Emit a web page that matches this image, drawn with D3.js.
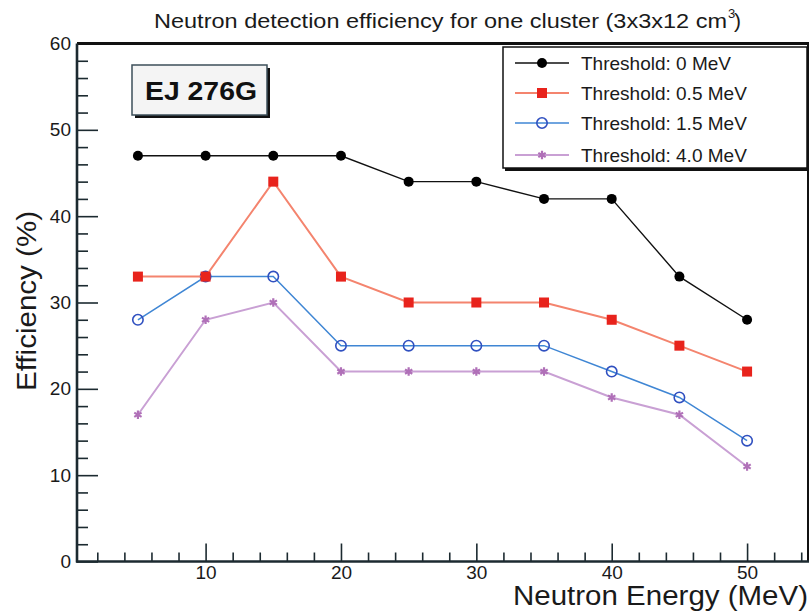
<!DOCTYPE html>
<html><head><meta charset="utf-8">
<script src="https://cdn.jsdelivr.net/npm/d3@7"></script>
<style>
html,body{margin:0;padding:0;background:#fff;}
svg{display:block;font-family:"Liberation Sans",Arial,Helvetica,sans-serif;}
</style></head>
<body>
<svg id="chart" width="810" height="616"></svg>
<script>
const energies = [5, 10, 15, 20, 25, 30, 35, 40, 45, 50];
const thr0  = [47, 47, 47, 47, 44, 44, 42, 42, 33, 28];
const thr05 = [33, 33, 44, 33, 30, 30, 30, 28, 25, 22];
const thr15 = [28, 33, 33, 25, 25, 25, 25, 22, 19, 14];
const thr40 = [17, 28, 30, 22, 22, 22, 22, 19, 17, 11];
const seriesNames = ["Threshold: 0 MeV", "Threshold: 0.5 MeV", "Threshold: 1.5 MeV", "Threshold: 4.0 MeV"];
const xTickLabels = [10, 20, 30, 40, 50];
const yTickLabels = [0, 10, 20, 30, 40, 50, 60];

const svg = d3.select("#chart");
const L = 77, R = 808, T = 43.5, B = 561.5;
const x = d3.scaleLinear().domain([0.5, 54.5]).range([L, R]);
const y = d3.scaleLinear().domain([0, 60]).range([B, T]);

const styles = [
  {line:"#111111", lw:1.4, marker:"dot",    mc:"#000000"},
  {line:"#f4846e", lw:2.0, marker:"square", mc:"#e8231c"},
  {line:"#3f86d4", lw:1.5, marker:"ocircle",mc:"#3050c0"},
  {line:"#c9a0d4", lw:2.0, marker:"star",   mc:"#b070b8"}
];
const allSeries = [thr0, thr05, thr15, thr40];

// title
const title = svg.append("text").attr("x", 154).attr("y", 28)
  .attr("font-size", 21).attr("fill", "#1a1a1a");
title.append("tspan").text("Neutron detection efficiency for one cluster (3x3x12 cm")
  .attr("textLength", 573).attr("lengthAdjust", "spacingAndGlyphs");
svg.append("text").attr("x", 728).attr("y", 18).attr("font-size", 13).attr("fill", "#1a1a1a").text("3");
svg.append("text").attr("x", 734).attr("y", 28).attr("font-size", 21).attr("fill", "#1a1a1a").text(")");

// axes ticks
const g = svg.append("g");
const yMajor = d3.axisLeft(y).tickValues(yTickLabels).tickFormat(d3.format("d")).tickSizeInner(-21).tickSizeOuter(0).tickPadding(6);
const yMinor = d3.axisLeft(y).tickValues(d3.range(0, 61, 2).filter(v => v % 10 !== 0)).tickFormat("").tickSizeInner(-11).tickSizeOuter(0);
const xMajor = d3.axisBottom(x).tickValues(xTickLabels).tickFormat(d3.format("d")).tickSizeInner(-18).tickSizeOuter(0).tickPadding(4);
const xMinor = d3.axisBottom(x).tickValues(d3.range(2, 55, 2).filter(v => v % 10 !== 0)).tickFormat("").tickSizeInner(-9).tickSizeOuter(0);

function styleAxis(sel, fs){
  sel.select(".domain").remove();
  sel.selectAll(".tick line").attr("stroke", "#1c2a30").attr("stroke-width", 1.6);
  sel.selectAll(".tick text").attr("font-size", fs).attr("fill", "#1a1a1a")
     .attr("font-family", "Liberation Sans, Arial, sans-serif");
}
g.append("g").attr("transform", `translate(${L},0)`).call(yMajor).call(s => styleAxis(s, 19));
g.append("g").attr("transform", `translate(${L},0)`).call(yMinor).call(s => styleAxis(s, 19));
g.append("g").attr("transform", `translate(0,${B})`).call(xMajor).call(s => styleAxis(s, 19));
g.append("g").attr("transform", `translate(0,${B})`).call(xMinor).call(s => styleAxis(s, 19));

// frame
svg.append("line").attr("x1", L).attr("x2", R+1).attr("y1", T).attr("y2", T).attr("stroke", "#111").attr("stroke-width", 3);
svg.append("line").attr("x1", R).attr("x2", R).attr("y1", T).attr("y2", B).attr("stroke", "#111").attr("stroke-width", 2);
svg.append("line").attr("x1", L).attr("x2", L).attr("y1", T).attr("y2", B+1).attr("stroke", "#1c2a30").attr("stroke-width", 2.6);
svg.append("line").attr("x1", L-1).attr("x2", R+1).attr("y1", B).attr("y2", B).attr("stroke", "#1c2a30").attr("stroke-width", 2.6);

// axis titles
svg.append("text").attr("x", 808).attr("y", 605).attr("text-anchor", "end")
  .attr("font-size", 27).attr("fill", "#1a1a1a")
  .attr("textLength", 295).attr("lengthAdjust", "spacingAndGlyphs")
  .text("Neutron Energy (MeV)");
svg.append("text").attr("transform", "translate(36,301) rotate(-90)")
  .attr("text-anchor", "middle").attr("font-size", 28).attr("fill", "#1a1a1a")
  .attr("textLength", 180).attr("lengthAdjust", "spacingAndGlyphs")
  .text("Efficiency (%)");

// markers
function drawMarker(sel, type, color, cx, cy){
  if (type === "dot") {
    sel.append("circle").attr("cx", cx).attr("cy", cy).attr("r", 5).attr("fill", color);
  } else if (type === "square") {
    sel.append("rect").attr("x", cx-5).attr("y", cy-5).attr("width", 10).attr("height", 10).attr("fill", color);
  } else if (type === "ocircle") {
    sel.append("circle").attr("cx", cx).attr("cy", cy).attr("r", 5.2).attr("fill", "none")
      .attr("stroke", color).attr("stroke-width", 1.6);
  } else {
    const sym = d3.symbolAsterisk ? d3.symbol().type(d3.symbolAsterisk).size(50) : d3.symbol().type(d3.symbolCross).size(50);
    sel.append("path").attr("transform", `translate(${cx},${cy})`).attr("d", sym())
      .attr("fill", d3.symbolAsterisk ? "none" : color)
      .attr("stroke", color).attr("stroke-width", 2.2);
  }
}

// series
const line = d3.line().x(d => x(d[0])).y(d => y(d[1]));
const order = [3, 2, 1, 0];
order.forEach(i => {
  const pts = energies.map((e, k) => [e, allSeries[i][k]]);
  const st = styles[i];
  svg.append("path").attr("d", line(pts)).attr("fill", "none")
    .attr("stroke", st.line).attr("stroke-width", st.lw);
  const mg = svg.append("g");
  pts.forEach(p => drawMarker(mg, st.marker, st.mc, x(p[0]), y(p[1])));
});

// EJ 276G label box
svg.append("rect").attr("x", 135).attr("y", 68).attr("width", 135).attr("height", 50).attr("fill", "#111");
svg.append("rect").attr("x", 132).attr("y", 65).attr("width", 135).attr("height", 50)
  .attr("fill", "#f4f4f4").attr("stroke", "#3d4f5a").attr("stroke-width", 1.5);
svg.append("text").attr("x", 145).attr("y", 100).attr("font-size", 26).attr("font-weight", "bold")
  .attr("fill", "#111").attr("textLength", 112).attr("lengthAdjust", "spacingAndGlyphs").text("EJ 276G");

// legend
const lg = svg.append("g");
lg.append("rect").attr("x", 505).attr("y", 49).attr("width", 304).attr("height", 122).attr("fill", "#111");
lg.append("rect").attr("x", 503).attr("y", 47).attr("width", 304).attr("height", 121)
  .attr("fill", "#fff").attr("stroke", "#111").attr("stroke-width", 1.5);
const rowY = [63, 93, 123, 155];
seriesNames.forEach((name, i) => {
  const st = styles[i];
  lg.append("line").attr("x1", 515).attr("x2", 569).attr("y1", rowY[i]).attr("y2", rowY[i])
    .attr("stroke", st.line).attr("stroke-width", st.lw);
  drawMarker(lg, st.marker, st.mc, 542, rowY[i]);
  lg.append("text").attr("x", 581).attr("y", rowY[i]).attr("dy", "0.36em")
    .attr("font-size", 19).attr("fill", "#1a1a1a").text(name);
});
</script>
</body></html>
